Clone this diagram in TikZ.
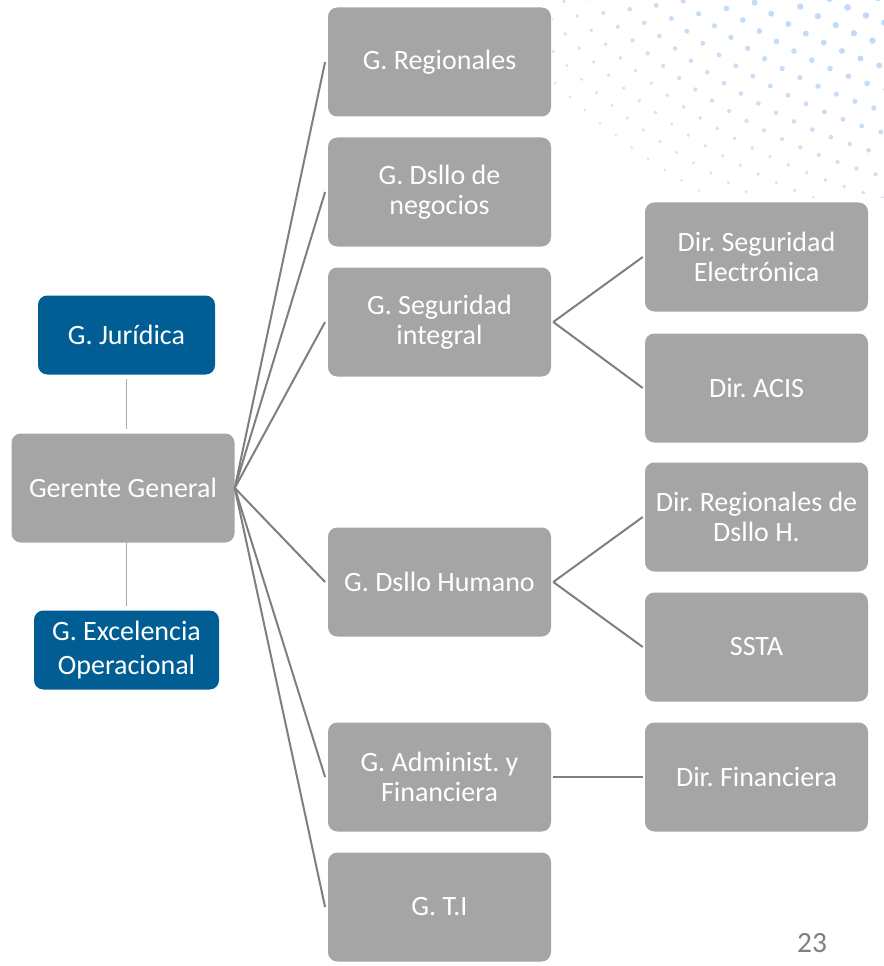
\documentclass[tikz,border=0pt]{standalone}
\usepackage{fontspec}
\setmainfont{Carlito}
\frenchspacing
\definecolor{boxgray}{RGB}{165,165,165}
\definecolor{boxblue}{RGB}{0,94,149}
\definecolor{linegray}{RGB}{127,127,127}
\definecolor{vgray}{RGB}{170,170,170}
\definecolor{dotblue}{RGB}{190,216,246}
\begin{document}
\begin{tikzpicture}[x=0.75pt,y=-0.75pt,
  gbox/.style={rectangle, rounded corners=7pt, fill=boxgray, text=white,
    minimum width=167.25pt, minimum height=81.75pt, align=center, inner sep=0pt,
    font=\fontsize{21}{22.5}\selectfont},
  bbox/.style={rectangle, rounded corners=7pt, fill=boxblue, text=white,
    minimum height=59.25pt, align=center, inner sep=0pt,
    font=\fontsize{21}{26}\selectfont},
  conn/.style={draw=linegray, line width=1.5pt},
  vconn/.style={draw=vgray, line width=1.1pt}]
\useasboundingbox (0,0) rectangle (884,966);
\fill[white] (0,0) rectangle (884,966);
% dotted pattern
\begin{scope}
\clip (552,0) rectangle (884,198);
\foreach \i in {0,...,12}{
  \pgfmathsetmacro{\r}{461+21*\i}
  \pgfmathsetmacro{\dr}{3.5-0.17*\i}
  \pgfmathsetmacro{\op}{1-0.03*\i}
  \pgfmathsetmacro{\st}{20/\r*57.2958}
  \pgfmathsetmacro{\off}{mod(\i,2)*0.5*\st}
  \foreach \k in {0,...,30}{
    \pgfmathsetmacro{\a}{97+\off+\k*\st}
    \fill[dotblue, opacity=\op] ({1050+\r*cos(\a)},{-430+\r*sin(\a)}) circle[radius=\dr*0.75pt];
  }
}
\end{scope}
% nodes
\node[gbox] (gg) at (123,488) {Gerente General};
\node[bbox, minimum width=132.75pt] (jur) at (126.5,335) {G. Jurídica};
\node[bbox, minimum width=138.75pt] (exc) at (126.5,650) {G. Excelencia\\Operacional};
\node[gbox] (reg) at (439.5,62) {G. Regionales};
\node[gbox] (neg) at (439.5,192) {G. Dsllo de\\negocios};
\node[gbox] (seg) at (439.5,322) {G. Seguridad\\integral};
\node[gbox] (hum) at (439.5,582) {G. Dsllo Humano};
\node[gbox] (adm) at (439.5,777) {G. Administ. y\\Financiera};
\node[gbox] (ti) at (439.5,907) {G. T.I};
\node[gbox] (dse) at (756.5,257) {Dir. Seguridad\\Electrónica};
\node[gbox] (acis) at (756.5,388) {Dir. ACIS};
\node[gbox] (drh) at (756.5,517) {Dir. Regionales de\\Dsllo H.};
\node[gbox] (ssta) at (756.5,647) {SSTA};
\node[gbox] (dfin) at (756.5,777) {Dir. Financiera};
\node[text=linegray, font=\fontsize{22}{26}\selectfont] (pg) at (812,943) {23};
% connectors
\foreach \c in {reg,neg,seg,hum,adm,ti}{
  \draw[conn] (gg.east) -- ([xshift=-2pt]\c.west);
}
\draw[conn] ([xshift=1.5pt]seg.east) -- ([xshift=-1.5pt]dse.west);
\draw[conn] ([xshift=1.5pt]seg.east) -- ([xshift=-1.5pt]acis.west);
\draw[conn] ([xshift=1.5pt]hum.east) -- ([xshift=-1.5pt]drh.west);
\draw[conn] ([xshift=1.5pt]hum.east) -- ([xshift=-1.5pt]ssta.west);
\draw[conn] ([xshift=1.5pt]adm.east) -- ([xshift=-1.5pt]dfin.west);
\draw[vconn] ([yshift=-3pt]jur.south) -- ([yshift=3pt]jur.south |- gg.north);
\draw[vconn] ([yshift=3pt]exc.north |- gg.south) -- ([yshift=3pt]exc.north);
\end{tikzpicture}
\end{document}
